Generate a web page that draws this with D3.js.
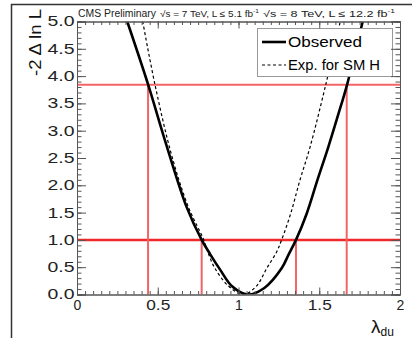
<!DOCTYPE html>
<html lang="en">
<head>
<meta charset="UTF-8">
<title>lambda du scan</title>
<script src="https://d3js.org/d3.v7.min.js"></script>
<style>
  body { margin: 0; background: #fff; }
  svg { display: block; font-family: "Liberation Sans", Arial, sans-serif; }
</style>
</head>
<body>
<div id="chart"></div>
<script>
// observed scan
const obsX = [0.311, 0.441, 0.545, 0.679, 0.772, 0.824, 0.885, 0.96, 1.057, 1.16, 1.267, 1.31, 1.356, 1.422, 1.488, 1.556, 1.615, 1.672, 1.769];
const obsY = [5.0, 3.84, 2.82, 1.60, 1.0, 0.74, 0.46, 0.15, 0.0, 0.12, 0.48, 0.73, 1.0, 1.48, 2.09, 2.70, 3.27, 3.84, 5.0];
// expected for SM H
const expX = [0.407, 0.483, 0.586, 0.69, 0.785, 0.81, 0.854, 0.94, 1.03, 1.11, 1.175, 1.236, 1.267, 1.323, 1.38, 1.443, 1.54, 1.63];
const expY = [5.0, 3.84, 2.55, 1.60, 1.0, 0.78, 0.48, 0.15, 0.0, 0.15, 0.48, 0.78, 1.0, 1.48, 2.09, 2.70, 3.84, 5.0];
// 68% / 95% levels and where the observed curve crosses them
const levels = [1.0, 3.84];
const cross68 = [0.772, 1.356];
const cross95 = [0.44, 1.67];

const xTicks = [0, 0.5, 1, 1.5, 2];
const xTickLabels = ["0", "0.5", "1", "1.5", "2"];
const yTicks = [0, 0.5, 1, 1.5, 2, 2.5, 3, 3.5, 4, 4.5, 5];

const W = 412, H = 338;
const mLeft = 77, mRight = 400, mTop = 21.5, mBottom = 294.5;

const x = d3.scaleLinear().domain([0, 2]).range([mLeft, mRight]);
const y = d3.scaleLinear().domain([0, 5]).range([mBottom, mTop]);

const svg = d3.select("#chart").append("svg")
  .attr("width", W).attr("height", H);

// outer frame (left + top)
svg.append("line").attr("x1", 11.5).attr("x2", 11.5).attr("y1", 4).attr("y2", H)
  .attr("stroke", "#333").attr("stroke-width", 1.5);
svg.append("line").attr("x1", 11).attr("x2", W).attr("y1", 4.5).attr("y2", 4.5)
  .attr("stroke", "#333").attr("stroke-width", 1.5);

svg.append("clipPath").attr("id", "clip")
  .append("rect").attr("x", mLeft).attr("y", mTop)
  .attr("width", mRight - mLeft).attr("height", mBottom - mTop);

const plot = svg.append("g").attr("clip-path", "url(#clip)");

// red lines
plot.append("line")
  .attr("x1", x(0)).attr("x2", x(2)).attr("y1", y(levels[1])).attr("y2", y(levels[1]))
  .attr("stroke", "#f46464").attr("stroke-width", 2);
plot.append("line")
  .attr("x1", x(0)).attr("x2", x(2)).attr("y1", y(levels[0])).attr("y2", y(levels[0]))
  .attr("stroke", "#f02828").attr("stroke-width", 2.5);
plot.selectAll(".v95").data(cross95).enter().append("line")
  .attr("x1", d => x(d)).attr("x2", d => x(d)).attr("y1", y(0)).attr("y2", y(levels[1]))
  .attr("stroke", "#f46464").attr("stroke-width", 2);
plot.selectAll(".v68").data(cross68).enter().append("line")
  .attr("x1", d => x(d)).attr("x2", d => x(d)).attr("y1", y(0)).attr("y2", y(levels[0]))
  .attr("stroke", "#f46464").attr("stroke-width", 2);

const line = d3.line()
  .x(d => x(d[0]))
  .y(d => y(d[1]))
  .curve(d3.curveCatmullRom.alpha(0.5));

plot.append("path")
  .datum(expX.map((v, i) => [v, expY[i]]))
  .attr("d", line)
  .attr("fill", "none").attr("stroke", "#000").attr("stroke-width", 1.2)
  .attr("stroke-dasharray", "3,2.5");

plot.append("path")
  .datum(obsX.map((v, i) => [v, obsY[i]]))
  .attr("d", line)
  .attr("fill", "none").attr("stroke", "#000").attr("stroke-width", 2.6);

// legend
const leg = svg.append("g");
leg.append("rect").attr("x", 257.5).attr("y", 28.5).attr("width", 135).attr("height", 48)
  .attr("fill", "#fff").attr("stroke", "#999").attr("stroke-width", 1);
leg.append("line").attr("x1", 262).attr("x2", 286).attr("y1", 42).attr("y2", 42)
  .attr("stroke", "#000").attr("stroke-width", 2.6);
leg.append("line").attr("x1", 262).attr("x2", 286).attr("y1", 65).attr("y2", 65)
  .attr("stroke", "#000").attr("stroke-width", 1).attr("stroke-dasharray", "3,2.5");
leg.append("text").attr("x", 288).attr("y", 46.5).attr("font-size", 14.5)
  .attr("textLength", 74).attr("lengthAdjust", "spacingAndGlyphs").text("Observed");
leg.append("text").attr("x", 288).attr("y", 69.5).attr("font-size", 14.5)
  .attr("textLength", 92).attr("lengthAdjust", "spacingAndGlyphs").text("Exp. for SM H");

// axes: inward ticks on all four sides
function styleAxis(g) {
  g.select(".domain").attr("stroke", "#555");
  g.selectAll(".tick line").attr("stroke", "#555");
  g.selectAll(".tick text").attr("fill", "#222")
    .attr("font-family", "Liberation Sans, Arial, sans-serif").attr("font-size", 14);
}

const xMinor = d3.range(0, 2.0001, 0.05);
const yMinor = d3.range(0, 5.0001, 0.1);

svg.append("g").attr("transform", `translate(0,${mBottom})`)
  .call(d3.axisBottom(x).tickValues(xMinor).tickSize(-3.5).tickFormat(""))
  .call(styleAxis);
const xAx = svg.append("g").attr("transform", `translate(0,${mBottom})`)
  .call(d3.axisBottom(x).tickValues(xTicks).tickSize(-7).tickPadding(5.5)
    .tickFormat((d, i) => xTickLabels[i]))
  .call(styleAxis);
xAx.selectAll(".tick text").filter(function () { return this.textContent.length === 3; })
  .attr("textLength", 24).attr("lengthAdjust", "spacingAndGlyphs");

svg.append("g").attr("transform", `translate(0,${mTop})`)
  .call(d3.axisTop(x).tickValues(xMinor).tickSize(-3.5).tickFormat(""))
  .call(styleAxis);
svg.append("g").attr("transform", `translate(0,${mTop})`)
  .call(d3.axisTop(x).tickValues(xTicks).tickSize(-7).tickFormat(""))
  .call(styleAxis);

svg.append("g").attr("transform", `translate(${mLeft},0)`)
  .call(d3.axisLeft(y).tickValues(yMinor).tickSize(-4.5).tickFormat(""))
  .call(styleAxis);
svg.append("g").attr("transform", `translate(${mLeft},0)`)
  .call(d3.axisLeft(y).tickValues(yTicks).tickSize(-9).tickPadding(2.5).tickFormat(d3.format(".1f")))
  .call(styleAxis)
  .selectAll(".tick text").attr("textLength", 27).attr("lengthAdjust", "spacingAndGlyphs");

svg.append("g").attr("transform", `translate(${mRight},0)`)
  .call(d3.axisRight(y).tickValues(yMinor).tickSize(-4.5).tickFormat(""))
  .call(styleAxis);
svg.append("g").attr("transform", `translate(${mRight},0)`)
  .call(d3.axisRight(y).tickValues(yTicks).tickSize(-9).tickFormat(""))
  .call(styleAxis);

// axis titles
svg.append("text")
  .attr("transform", "translate(41,76) rotate(-90)")
  .attr("font-size", 17).attr("fill", "#111")
  .attr("textLength", 67).attr("lengthAdjust", "spacingAndGlyphs")
  .text("-2 \u0394 ln L");

const xt = svg.append("text").attr("x", 371).attr("y", 333).attr("fill", "#111");
xt.append("tspan").attr("font-size", 19).text("\u03bb");
xt.append("tspan").attr("font-size", 12).attr("dy", 3).text("du");

// header
svg.append("text").attr("x", 78).attr("y", 17).attr("font-size", 10).attr("fill", "#222")
  .attr("textLength", 78).attr("lengthAdjust", "spacingAndGlyphs")
  .text("CMS Preliminary");

function lumiText(x0, len, sqrtS, lumi) {
  const t = svg.append("text").attr("x", x0).attr("y", 17).attr("font-size", 9).attr("fill", "#222")
    .attr("textLength", len).attr("lengthAdjust", "spacingAndGlyphs");
  t.append("tspan").text("\u221as = " + sqrtS + " TeV, L \u2264 " + lumi + " fb");
  t.append("tspan").attr("font-size", 6).attr("dy", -4).text("-1");
}
lumiText(160, 99, "7", "5.1");
lumiText(263, 132, "8", "12.2");
</script>
</body>
</html>
